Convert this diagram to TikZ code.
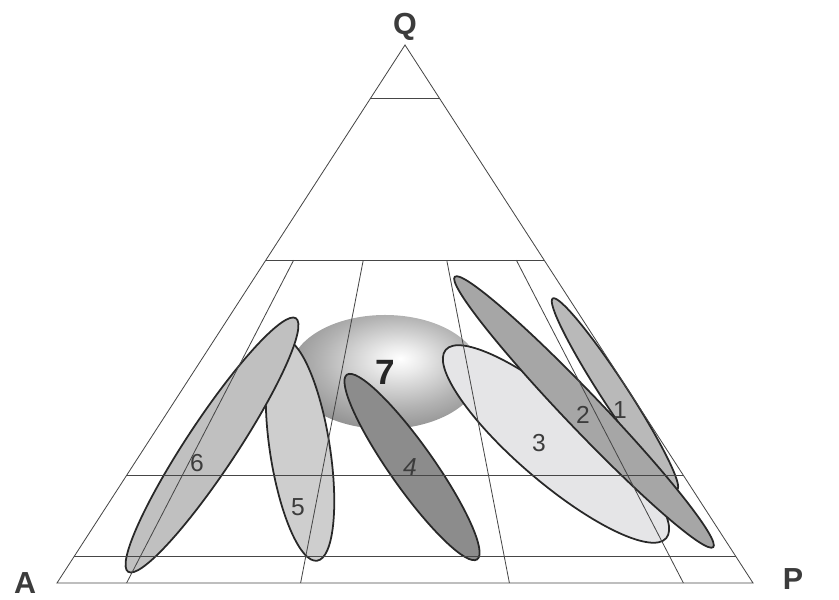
\documentclass[tikz,border=0pt]{standalone}
\usepackage{fontspec}
\setmainfont{Liberation Sans}
\usepackage{tikz}
\usetikzlibrary{calc}
\definecolor{outl}{RGB}{40,40,40}
\definecolor{gridc}{RGB}{70,70,70}
\definecolor{labc}{RGB}{60,60,60}
\definecolor{fone}{RGB}{185,185,185}
\definecolor{ftwo}{RGB}{166,166,166}
\definecolor{fthree}{RGB}{229,229,231}
\definecolor{ffour}{RGB}{140,140,140}
\definecolor{ffive}{RGB}{206,206,206}
\definecolor{fsix}{RGB}{192,192,192}
\pgfdeclareradialshading{fieldseven}{\pgfpoint{4bp}{6bp}}{color(0bp)=(white); color(6bp)=(black!8); color(20bp)=(black!30); color(35bp)=(black!50); color(50bp)=(black!68); color(75bp)=(black!72)}
\tikzset{
  field/.style={draw=outl, line width=1.5pt},
  grid/.style={draw=gridc, line width=0.7pt},
  num/.style={font=\fontsize{21}{21}\selectfont, text=labc, inner sep=0pt},
  corner/.style={font=\bfseries\fontsize{26}{26}\selectfont, text=labc, inner sep=0pt},
}
\begin{document}
\begin{tikzpicture}[x=0.03cm, y=0.03cm]
  \useasboundingbox (0,0) rectangle (839,600);
  \coordinate (A) at (57,17);
  \coordinate (P) at (753,17);
  \coordinate (Q) at (405,555);
  \coordinate (c1) at (615,206);
  \coordinate (c2) at (584,188);
  \coordinate (c3) at (556,156);
  \coordinate (c4) at (412,133);
  \coordinate (c5) at (300,150);
  \coordinate (c6) at (212,155);
  \coordinate (c7) at (385,228);

  \shade[shading=fieldseven] (c7) ellipse [x radius=95, y radius=57];
  \draw[field, fill=ffive, rotate around={98.8:(c5)}] (c5) ellipse [x radius=112, y radius=30];
  \draw[field, fill=fsix, rotate around={56.5:(c6)}] (c6) ellipse [x radius=152, y radius=25];
  \draw[field, fill=ffour, rotate around={125.2:(c4)}] (c4) ellipse [x radius=113, y radius=22];
  \draw[field, fill=fthree, rotate around={-40.5:(c3)}] (c3) ellipse [x radius=145, y radius=39];
  \draw[field, fill=fone, rotate around={-56.9:(c1)}] (c1) ellipse [x radius=114, y radius=13];
  \draw[field, fill=ftwo, rotate around={-46.3:(c2)}] (c2) ellipse [x radius=187, y radius=18];

  \foreach \f in {0.05,0.2,0.6,0.9}
    \draw[grid] ($(A)!\f!(Q)$) -- ($(P)!\f!(Q)$);
  \foreach \f in {0.1,0.35,0.65,0.9} {
    \coordinate (b) at ($(A)!\f!(P)$);
    \draw[grid] (b) -- ($(b)!0.6!(Q)$);
  }
  \draw[grid] (A) -- (P) -- (Q) -- cycle;

  \node[corner] (lq) at (405,573) {Q};
  \node[corner] (la) at (25,17) {A};
  \node[corner] (lp) at (793,21) {P};
  \node[num] (n1) at (620,190) {1};
  \node[num] (n2) at (583,185) {2};
  \node[num] (n3) at (539,157) {3};
  \node[num, font=\itshape\fontsize{21}{21}\selectfont] (n4) at (410,133) {4};
  \node[num] (n5) at (298,93) {5};
  \node[num] (n6) at (197,137) {6};
  \node[num, font=\bfseries\fontsize{30}{30}\selectfont, text=black!85] (n7) at (385,228) {7};
\end{tikzpicture}
\end{document}
